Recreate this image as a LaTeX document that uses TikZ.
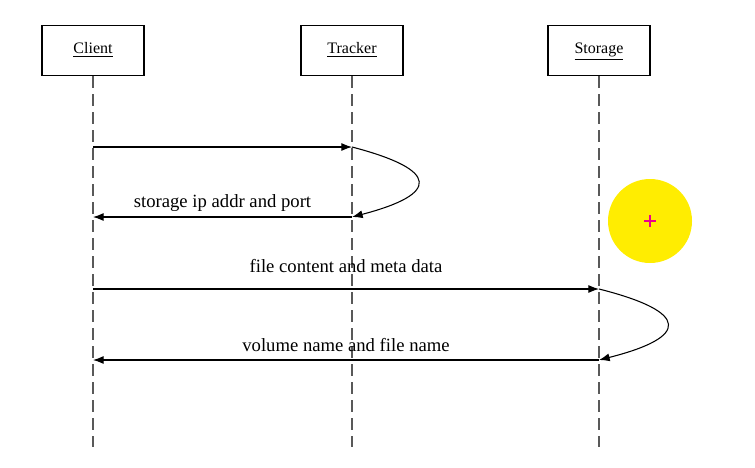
\documentclass[tikz,border=0pt]{standalone}
\usepackage{fontspec}
\setmainfont{Liberation Serif}
\usepackage{tikz}
\usetikzlibrary{arrows.meta,positioning,calc}
\tikzset{
  actor/.style   ={rectangle,draw,line width=0.8pt,minimum width=76.5pt,minimum height=38pt,inner sep=0pt,text height=9pt,text depth=4pt,font=\fontsize{12}{14}\selectfont},
  lifeline/.style={draw=black!65,line width=1pt,dash pattern=on 9pt off 4.5pt},
  msg/.style     ={line width=0.8pt,-{Latex[length=8pt,width=6pt]}},
  msglabel/.style={font=\fontsize{14}{16}\selectfont,inner sep=1pt},
  spot/.style    ={circle,fill=yellow!95!orange,minimum size=63pt,inner sep=0pt},
}

\begin{document}
\begin{tikzpicture}[x=0.75pt,y=-0.75pt]
  \useasboundingbox (0,0) rectangle (755,467);
  % actors
  \node[actor] (client)  at (93,50.5)  {\underline{Client}};
  \node[actor] (tracker) at (352,50.5) {\underline{Tracker}};
  \node[actor] (storage) at (599,50.5) {\underline{Storage}};
  \coordinate (clientend)  at (93,447);
  \coordinate (trackerend) at (352,447);
  \coordinate (storageend) at (599,447);
  \draw[lifeline] (client)  -- (clientend);
  \draw[lifeline] (tracker) -- (trackerend);
  \draw[lifeline] (storage) -- (storageend);

  % points on the lifelines
  \coordinate (c1) at (93,147);  \coordinate (t1) at (352,147);
  \coordinate (c2) at (93,217);  \coordinate (t2) at (352,217);
  \coordinate (c3) at (93,289);  \coordinate (s3) at (599,289);
  \coordinate (c4) at (93,360);  \coordinate (s4) at (599,360);

  % messages
  \draw[msg] (c1) -- (t1);
  \draw[msg] (t1) .. controls (440,170) and (440,194) .. (t2);
  \draw[msg] (t2) -- node[msglabel,above=3pt] (lbl1) {storage ip addr and port} (c2);
  \draw[msg] (c3) -- node[msglabel,above=11pt] (lbl2) {file content and meta data} (s3);
  \draw[msg] (s3) .. controls (690,312) and (690,337) .. (s4);
  \draw[msg] (s4) -- node[msglabel,above=5pt] (lbl3) {volume name and file name} (c4);

  % highlight spot
  \node[spot] (hl) at (650,221) {};
  \draw[magenta,line width=1.2pt] ($(hl.center)+(-6,0)$) -- ($(hl.center)+(6,0)$);
  \draw[magenta,line width=1.2pt] ($(hl.center)+(0,-6)$) -- ($(hl.center)+(0,6)$);
\end{tikzpicture}
\end{document}
